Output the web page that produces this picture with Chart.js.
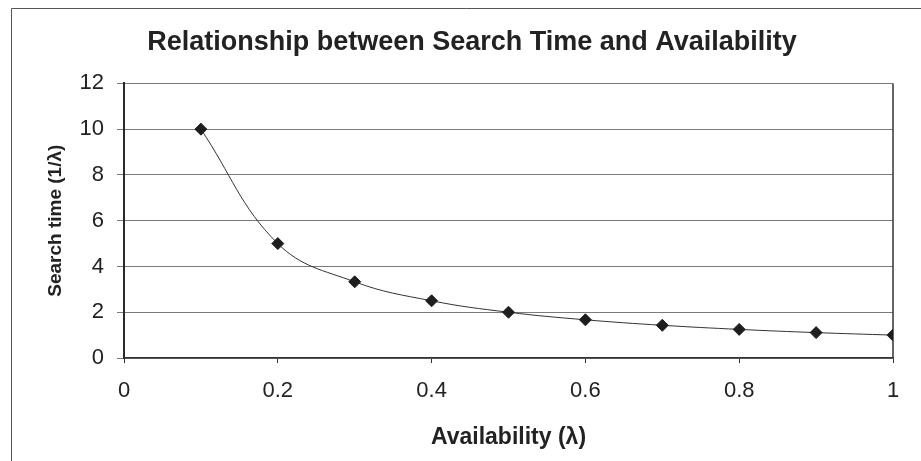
<!DOCTYPE html>
<html>
<head>
<meta charset="utf-8">
<script src="https://cdn.jsdelivr.net/npm/chart.js@4/dist/chart.umd.min.js"></script>
<style>
  html, body { margin: 0; padding: 0; background: #ffffff; }
  canvas { display: block; }
</style>
</head>
<body>
<canvas id="chart" width="921" height="461"></canvas>
<script>
// Availability (lambda) values and the matching search time 1/lambda
const availability = [0.1, 0.2, 0.3, 0.4, 0.5, 0.6, 0.7, 0.8, 0.9, 1.0];
const searchTime = [10, 5, 3.33, 2.5, 2, 1.67, 1.43, 1.25, 1.11, 1];

const xTicks = [0, 0.2, 0.4, 0.6, 0.8, 1];
const yTicks = [0, 2, 4, 6, 8, 10, 12];

const FONT = '"Liberation Sans", Arial, Helvetica, sans-serif';
const PAD_LEFT = 51;

// Frame around the whole chart plus the right edge of the plot box
const framePlugin = {
  id: 'frame',
  beforeDraw(chart) {
    const ctx = chart.ctx;
    ctx.save();
    ctx.fillStyle = '#ffffff';
    ctx.fillRect(0, 0, chart.width, chart.height);
    ctx.strokeStyle = '#555555';
    ctx.lineWidth = 1;
    ctx.beginPath();
    ctx.moveTo(11.5, chart.height);
    ctx.lineTo(11.5, 8.5);
    ctx.lineTo(chart.width, 8.5);
    ctx.stroke();
    ctx.restore();
  },
  beforeDatasetsDraw(chart) {
    const a = chart.chartArea;
    const ctx = chart.ctx;
    ctx.save();
    ctx.strokeStyle = '#333333';
    ctx.lineWidth = 1.5;
    ctx.beginPath();
    ctx.moveTo(a.right, a.top);
    ctx.lineTo(a.right, a.bottom);
    ctx.stroke();
    ctx.restore();
  }
};

new Chart(document.getElementById('chart'), {
  type: 'scatter',
  data: {
    datasets: [{
      data: availability.map((x, i) => ({ x: x, y: searchTime[i] })),
      showLine: true,
      tension: 0.4,
      borderColor: '#333333',
      borderWidth: 1,
      pointStyle: 'rectRot',
      pointRadius: 6,
      pointHoverRadius: 6,
      pointBackgroundColor: '#1e1e1e',
      pointBorderColor: '#1e1e1e',
      pointBorderWidth: 1
    }]
  },
  options: {
    responsive: false,
    animation: false,
    layout: { padding: { left: PAD_LEFT, right: 28, top: 0, bottom: 0 } },
    plugins: {
      legend: { display: false },
      tooltip: { enabled: false },
      title: {
        display: true,
        text: 'Relationship between Search Time and Availability',
        color: '#222222',
        font: { family: FONT, size: 27, weight: 'bold' },
        padding: { top: 26, bottom: 25 }
      }
    },
    scales: {
      x: {
        type: 'linear',
        min: 0,
        max: 1,
        afterBuildTicks(scale) { scale.ticks = xTicks.map(v => ({ value: v })); },
        afterFit(scale) { scale.height = 103; },
        ticks: {
          color: '#222222',
          font: { family: FONT, size: 22 },
          padding: 15,
          callback: v => String(v)
        },
        grid: {
          drawOnChartArea: false,
          drawTicks: true,
          tickLength: 5,
          color: '#333333'
        },
        border: { display: true, color: '#333333', width: 1.5 },
        title: {
          display: true,
          text: 'Availability (λ)',
          color: '#222222',
          font: { family: FONT, size: 23, weight: 'bold' },
          padding: { top: 0, bottom: 10 }
        }
      },
      y: {
        type: 'linear',
        min: 0,
        max: 12,
        afterBuildTicks(scale) { scale.ticks = yTicks.map(v => ({ value: v })); },
        afterFit(scale) { scale.width = 124 - PAD_LEFT; },
        ticks: {
          color: '#222222',
          font: { family: FONT, size: 22 },
          padding: 13
        },
        grid: {
          color: '#7a7a7a',
          lineWidth: 1,
          tickLength: 7
        },
        border: { display: true, color: '#2a2a2a', width: 2 },
        title: {
          display: true,
          text: 'Search time (1/λ)',
          color: '#222222',
          font: { family: FONT, size: 19, weight: 'bold' },
          padding: { top: 55 - PAD_LEFT - 11, bottom: 0 }
        }
      }
    }
  },
  plugins: [framePlugin]
});
</script>
</body>
</html>
